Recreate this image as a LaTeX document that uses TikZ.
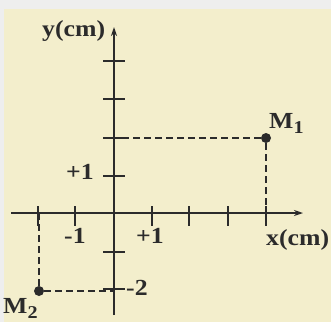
\documentclass[tikz,border=0pt]{standalone}
\usepackage{fontspec}
\setmainfont{Liberation Serif}[FakeStretch=1.12]
\usetikzlibrary{arrows.meta}
\definecolor{cream}{HTML}{F3EECC}
\definecolor{framegray}{HTML}{EEEEEE}
\definecolor{ink}{HTML}{2B2B2B}
\newcommand{\sublbl}[1]{\raisebox{-5pt}{\fontsize{18}{18}\selectfont #1}}
\begin{document}
\begin{tikzpicture}[x=1pt,y=-1pt,
  axis/.style={draw=ink, line width=1.3pt, -{Stealth[length=9pt,width=6pt]}},
  tickline/.style={draw=ink, line width=1.1pt},
  guide/.style={draw=ink, line width=1.1pt, dash pattern=on 7pt off 4pt},
  lbl/.style={font=\bfseries\fontsize{23}{23}\selectfont, text=ink, inner sep=0pt},
  pt/.style={circle, fill=ink, minimum size=10pt, inner sep=0pt}]
\useasboundingbox (0,0) rectangle (331,322);
\fill[framegray] (0,0) rectangle (331,322);
\fill[cream] (4,9) rectangle (331,322);
% axes
\coordinate (O) at (114,213);
\coordinate (xl) at (11,213);
\coordinate (xr) at (303,213);
\coordinate (yb) at (114,315);
\coordinate (yt) at (114,27);
\draw[axis] (xl) -- (xr);
\draw[axis] (yb) -- (yt);
% ticks
\foreach \x in {38,75,152,189,228,266}
  \draw[tickline] (\x,206) -- (\x,226);
\foreach \y in {61,99,138,176,252,289}
  \draw[tickline] (103,\y) -- (125,\y);
% points
\node[pt] (M1) at (266,138) {};
\node[pt] (M2) at (39,291) {};
\draw[guide] (M1) -- (M1 |- O);
\draw[guide] (M1) -- (O |- M1);
\draw[guide] (M2) -- (M2 |- O);
\draw[guide] (M2) -- (O |- M2);
% labels
\node[lbl, anchor=base west] (ylab) at (42,36.5) {y(cm)};
\node[lbl, anchor=base west] (xlab) at (266,245) {x(cm)};
\node[lbl, anchor=base west] (m1lab) at (269,128) {M\sublbl{1}};
\node[lbl, anchor=base west] (m2lab) at (3,313) {M\sublbl{2}};
\node[lbl, anchor=base west] (yp1) at (66,179) {+1};
\node[lbl, anchor=base west] (xm1) at (64,243) {-1};
\node[lbl, anchor=base west] (xp1) at (136,243) {+1};
\node[lbl, anchor=base west] (ym2) at (126,295) {-2};
\end{tikzpicture}
\end{document}
